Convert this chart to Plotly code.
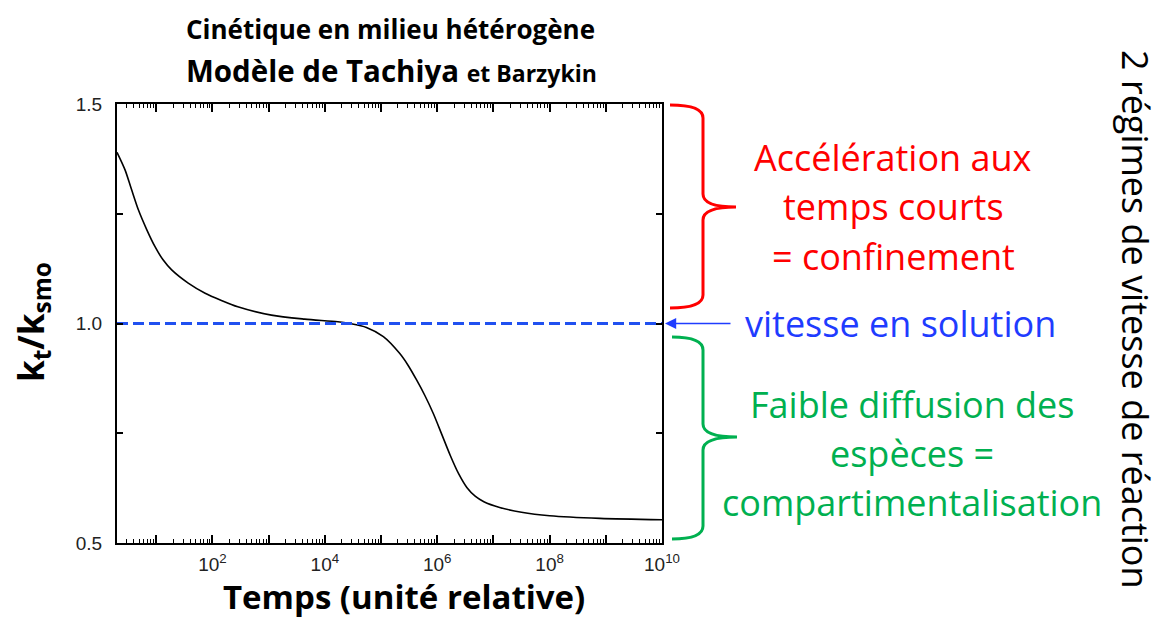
import plotly.graph_objects as go
import math

# ---------------- data ----------------
time_rel = [2, 2.78, 3.63, 4.8, 6.76, 9.5, 13.2, 18.8, 37, 74, 141, 282, 1120,
            4370, 17000, 27500, 55000, 110000, 213800, 302000, 426600, 602600,
            851100, 1.2e6, 1.7e6, 2.4e6, 3.39e6, 4.79e6, 6.76e6, 1.29e7, 3.16e7,
            1e8, 7.8e8, 1e10]
k_ratio = [1.39, 1.35, 1.305, 1.259, 1.214, 1.175, 1.145, 1.122, 1.092, 1.069,
           1.053, 1.038, 1.019, 1.010, 1.004, 1.000, 0.991, 0.970, 0.932, 0.905,
           0.872, 0.836, 0.795, 0.748, 0.700, 0.658, 0.626, 0.606, 0.594, 0.581,
           0.570, 0.562, 0.556, 0.553]
solution_level = 1.0
x_major_ticks = [10, 100, 1e3, 1e4, 1e5, 1e6, 1e7, 1e8, 1e9, 1e10]
x_tick_labels = ["", "10<sup>2</sup>", "", "10<sup>4</sup>", "", "10<sup>6</sup>",
                 "", "10<sup>8</sup>", "", "10<sup>10</sup>"]
y_ticks = [0.5, 0.75, 1.0, 1.25, 1.5]
y_tick_labels = ["0.5", "", "1.0", "", "1.5"]

# ---------------- layout geometry ----------------
W, H = 1160, 619
L, R, T, B = 117, 662, 104, 543


def px(x):
    return (x - L) / (R - L)


def py(y):
    return (B - y) / (B - T)


RED = "#FF0000"
GREEN = "#00B050"
BLUE = "#1F3CFF"
FONT = "Open Sans"

minor_vals = [m * 10 ** d for d in range(0, 10) for m in range(2, 10) if m * 10 ** d <= 1e10]

fig = go.Figure()
fig.add_trace(go.Scatter(x=time_rel, y=k_ratio, mode="lines",
                         line=dict(color="black", width=1.6, shape="spline", smoothing=0.8),
                         hoverinfo="skip", showlegend=False))
fig.add_trace(go.Scatter(x=[time_rel[0], time_rel[-1]], y=[solution_level, solution_level],
                         mode="lines", line=dict(color="#2050F0", width=2.8, dash="11px,5px"),
                         hoverinfo="skip", showlegend=False))

fig.update_layout(
    width=W, height=H,
    margin=dict(l=L, r=W - R, t=T, b=H - B),
    paper_bgcolor="white", plot_bgcolor="white",
    showlegend=False,
    xaxis=dict(type="log", range=[math.log10(2), 10],
               tickmode="array", tickvals=x_major_ticks, ticktext=x_tick_labels,
               ticks="inside", ticklen=8, tickwidth=1.5, tickcolor="black",
               showline=True, linewidth=2, linecolor="black", mirror="ticks",
               showgrid=False, zeroline=False, ticklabelstandoff=3,
               tickfont=dict(family="Liberation Sans", size=19, color="#222"),
               minor=dict(tickmode="array", tickvals=minor_vals, ticks="inside",
                          ticklen=4, tickwidth=1.2, tickcolor="black", showgrid=False)),
    yaxis=dict(range=[0.5, 1.5], tickmode="array", tickvals=y_ticks, ticktext=y_tick_labels,
               ticks="inside", ticklen=6, tickwidth=1.5, tickcolor="black",
               showline=True, linewidth=2, linecolor="black", mirror="ticks",
               showgrid=False, zeroline=False, ticklabelstandoff=9,
               tickfont=dict(family="Liberation Sans", size=19, color="#222")),
)

ann = []


def text(x, y, s, size, color="black", bold=False, angle=0, xanchor="center"):
    ann.append(dict(x=px(x), y=py(y), xref="paper", yref="paper", text=s,
                    showarrow=False, xanchor=xanchor, yanchor="middle", textangle=angle,
                    font=dict(family=FONT, size=size, color=color,
                              weight="bold" if bold else "normal")))


# titles
text(390, 29, "Cinétique en milieu hétérogène", 26, bold=True)
text(391, 71, "Modèle de Tachiya <span style='font-size:23px'>et Barzykin</span>", 29.5, bold=True)
text(404, 596, "Temps (unité relative)", 33, bold=True)
text(32, 322, "k<sub>t</sub>/k<sub>smo</sub>", 35, bold=True, angle=-90)

# red block
for yy, s in [(157, "Accélération aux"), (206, "temps courts"), (256, "= confinement")]:
    text(893, yy, s, 36, color=RED)
# blue
text(900, 323, "vitesse en solution", 36, color=BLUE)
# green block
for yy, s in [(404, "Faible diffusion des"), (453, "espèces ="), (502, "compartimentalisation")]:
    text(912, yy, s, 36, color=GREEN)
# vertical right text
text(1136, 319, "2 régimes de vitesse de réaction", 36, angle=90)

# blue arrow
ann.append(dict(x=px(665), y=solution_level, xref="paper", yref="y", text="",
                showarrow=True, ax=67, ay=0, axref="pixel", ayref="pixel",
                arrowhead=2, arrowsize=1.4, arrowwidth=1.6, arrowcolor=BLUE, standoff=0))

fig.update_layout(annotations=ann)


def bracket(x0, xm, xt, y0, ym, y1, r=13):
    pts = [
        ("M", (x0, y0)), ("Q", (xm, y0), (xm, y0 + r)), ("L", (xm, ym - r)),
        ("Q", (xm, ym), (xt, ym)), ("Q", (xm, ym), (xm, ym + r)), ("L", (xm, y1 - r)),
        ("Q", (xm, y1), (x0, y1)),
    ]
    out = []
    for p in pts:
        cmd = p[0]
        coords = " ".join(f"{px(a):.5f},{py(b):.5f}" for a, b in p[1:])
        out.append(f"{cmd} {coords}")
    return " ".join(out)


fig.add_shape(type="path", xref="paper", yref="paper",
              path=bracket(670, 703, 736, 105, 207, 308), line=dict(color=RED, width=3))
fig.add_shape(type="path", xref="paper", yref="paper",
              path=bracket(672, 703, 737, 337, 437, 539), line=dict(color=GREEN, width=3))

fig.write_html("out.html", config={"displayModeBar": False},
               post_script="document.body.style.margin='0px';document.body.style.overflow='hidden';")
